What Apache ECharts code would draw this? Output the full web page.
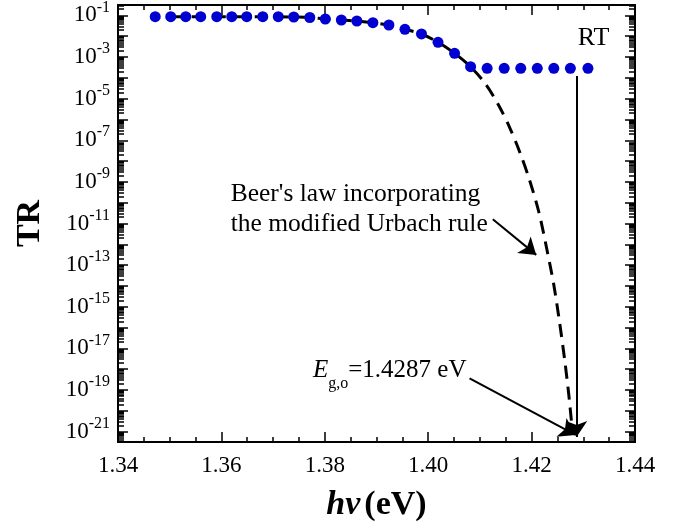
<!DOCTYPE html>
<html>
<head>
<meta charset="utf-8">
<script src="https://cdn.jsdelivr.net/npm/echarts@6/dist/echarts.min.js"></script>
<style>
  html, body { margin: 0; padding: 0; background: #fff; }
  #chart { width: 684px; height: 523px; }
</style>
</head>
<body>
<div id="chart"></div>
<script>
// measured points (RT)
const dotEnergy = [1.3472, 1.3502, 1.3531, 1.3560, 1.3591, 1.3620, 1.3649, 1.3680, 1.3710, 1.3740,
  1.3771, 1.3801, 1.3832, 1.3862, 1.3893, 1.3924, 1.3955, 1.3987, 1.4019, 1.4051,
  1.4082, 1.4114, 1.4147, 1.4179, 1.4211, 1.4243, 1.4275, 1.4309];
const dotTR = [0.0867, 0.0867, 0.0867, 0.0867, 0.0867, 0.0867, 0.0867, 0.0867, 0.0867, 0.0837,
  0.0793, 0.0672, 0.0601, 0.0538, 0.0446, 0.0346, 0.0215, 0.0128, 0.0051, 0.00151,
  3.43e-4, 2.87e-4, 2.87e-4, 2.87e-4, 2.87e-4, 2.87e-4, 2.87e-4, 2.87e-4];

// Beer's law + modified Urbach rule (dashed)
const curveEnergy = [1.3502, 1.3531, 1.3560, 1.3591, 1.3620, 1.3649, 1.3680, 1.3710, 1.3740, 1.3771,
  1.3801, 1.3832, 1.3862, 1.3893, 1.3924, 1.3955, 1.3987, 1.4019, 1.4051, 1.4082,
  1.4111, 1.4136, 1.4158, 1.4177, 1.4196, 1.4214, 1.4229, 1.4243, 1.4254, 1.4264, 1.4272, 1.4279];
const curveTR = [0.0867, 0.0867, 0.0867, 0.0867, 0.0867, 0.0867, 0.0867, 0.0867, 0.0837, 0.0793,
  0.0672, 0.0601, 0.0538, 0.0446, 0.0346, 0.0215, 0.0128, 0.0051, 0.00151, 3.4e-4,
  5.06e-5, 4.95e-6, 3.88e-7, 2.73e-8, 1.23e-9, 3.57e-11, 6.65e-13, 1.11e-14, 1.85e-16, 2.76e-18, 5.74e-20, 9.6e-22];

const yLabelExponents = [-21, -19, -17, -15, -13, -11, -9, -7, -5, -3, -1];
const yDecadeExponents = [-21, -20, -19, -18, -17, -16, -15, -14, -13, -12, -11, -10, -9, -8, -7, -6, -5, -4, -3, -2, -1];
const xMin = 1.34;
const xMax = 1.44;
const yMin = Math.pow(10, -21.5);
const yMax = Math.pow(10, -0.5);

const egEnergy = 1.4287;

(() => {
  const chart = echarts.init(document.getElementById('chart'), null, { renderer: 'canvas' });
  const font = 'Liberation Serif, Times New Roman, serif';

  const majorTicks = yDecadeExponents.map((e) => Math.pow(10, e));
  const labelTicks = yLabelExponents.map((e) => Math.pow(10, e));
  const minorTicks = [];
  yDecadeExponents.concat([-22]).forEach((e) => {
    for (let m = 2; m <= 9; m += 1) {
      const v = m * Math.pow(10, e);
      if (v > yMin && v < yMax) minorTicks.push(v);
    }
  });

  const axisLine = { show: true, onZero: false, lineStyle: { color: '#000', width: 2 } };

  function yAxis(position, ticks, len, withLabels) {
    return {
      type: 'log',
      logBase: 10,
      min: yMin,
      max: yMax,
      position,
      axisLine,
      splitLine: { show: false },
      axisTick: { show: true, inside: true, length: len, customValues: ticks, lineStyle: { color: '#000', width: 1.5 } },
      axisLabel: withLabels ? {
        show: true,
        customValues: labelTicks,
        margin: 8,
        formatter: (v) => `{b|10}{s|${Math.round(Math.log10(v))}}`,
        rich: {
          b: { fontFamily: font, fontSize: 23, color: '#000' },
          s: { fontFamily: font, fontSize: 16, color: '#000', padding: [0, 0, 16, 0] },
        },
      } : { show: false },
      name: withLabels ? 'TR' : '',
      nameLocation: 'middle',
      nameGap: 71,
      nameTextStyle: { fontFamily: font, fontSize: 34, fontWeight: 'bold', color: '#000' },
    };
  }

  function xAxis(position, withLabels) {
    return {
      type: 'value',
      min: xMin,
      max: xMax,
      interval: 0.02,
      position,
      axisLine,
      splitLine: { show: false },
      axisTick: { show: true, inside: true, length: 10, lineStyle: { color: '#000', width: 1.5 } },
      minorTick: { show: true, splitNumber: 4, length: 5, lineStyle: { color: '#000', width: 1.5 } },
      axisLabel: withLabels ? {
        show: true,
        margin: 12,
        fontFamily: font,
        fontSize: 23,
        color: '#000',
        formatter: (v) => v.toFixed(2),
      } : { show: false },
      name: withLabels ? '{a|h\u03bd}{b|(eV)}' : '',
      nameLocation: 'middle',
      nameGap: 46,
      nameTextStyle: {
        rich: {
          a: { fontFamily: font, fontSize: 34, fontWeight: 'bold', fontStyle: 'italic', color: '#000' },
          b: { fontFamily: font, fontSize: 34, fontWeight: 'bold', color: '#000', padding: [0, 0, 0, 4] },
        },
      },
    };
  }

  const arrowStyle = { color: '#000', width: 2, type: 'solid' };

  chart.setOption({
    animation: false,
    backgroundColor: '#fff',
    grid: { left: 118, right: 49, top: 5, bottom: 81, containLabel: false, outerBoundsMode: 'none' },
    xAxis: [xAxis('bottom', true), xAxis('top', false)],
    yAxis: [
      yAxis('left', majorTicks, 10, true),
      yAxis('left', minorTicks, 6, false),
      yAxis('right', majorTicks, 10, false),
      yAxis('right', minorTicks, 6, false),
    ],
    series: [
      {
        name: 'model',
        type: 'line',
        xAxisIndex: 0,
        yAxisIndex: 0,
        data: curveEnergy.map((x, i) => [x, curveTR[i]]),
        showSymbol: false,
        smooth: 0.3,
        lineStyle: { color: '#000', width: 3, type: [13, 8] },
        silent: true,
        z: 2,
      },
      {
        name: 'RT',
        type: 'scatter',
        xAxisIndex: 0,
        yAxisIndex: 0,
        data: dotEnergy.map((x, i) => [x, dotTR[i]]),
        symbol: 'circle',
        symbolSize: 11,
        itemStyle: { color: '#0000d0', opacity: 1 },
        silent: true,
        z: 3,
        markLine: {
          silent: true,
          symbol: ['none', 'arrow'],
          symbolSize: 16,
          label: { show: false },
          lineStyle: arrowStyle,
          data: [
            [{ coord: [egEnergy, 1.22e-4] }, { coord: [egEnergy, 5.5e-22] }],
            [{ coord: [1.4125, 1.6e-11] }, { coord: [1.4209, 3.1e-13] }],
            [{ coord: [1.4080, 3.65e-19] }, { coord: [1.4285, 6.9e-22] }],
          ],
        },
      },
    ],
  });

  const px = (x, y) => chart.convertToPixel({ xAxisIndex: 0, yAxisIndex: 0 }, [x, y]);
  const rtPos = px(1.4320, 0.0085);
  const beerPos = px(1.3618, 5.0e-11);
  const egPos = px(1.3777, 9.1e-19);

  chart.setOption({
    graphic: [
      {
        type: 'text',
        x: rtPos[0],
        y: rtPos[1],
        style: { text: 'RT', font: `26px ${font}`, fill: '#000', align: 'center', verticalAlign: 'middle' },
      },
      {
        type: 'text',
        x: beerPos[0],
        y: beerPos[1],
        style: {
          text: "Beer's law incorporating\nthe modified Urbach rule",
          font: `25.5px ${font}`,
          lineHeight: 30,
          fill: '#000',
          align: 'left',
          verticalAlign: 'middle',
        },
      },
      {
        type: 'text',
        x: egPos[0],
        y: egPos[1],
        style: {
          text: '{e|E}{s|g,o}{r|=1.4287 eV}',
          align: 'left',
          verticalAlign: 'middle',
          rich: {
            e: { fontFamily: font, fontSize: 25, fontStyle: 'italic', fill: '#000' },
            s: { fontFamily: font, fontSize: 16, fill: '#000', padding: [28, 0, 0, 0] },
            r: { fontFamily: font, fontSize: 25, fill: '#000' },
          },
        },
      },
    ],
  });
})();
</script>
</body>
</html>
